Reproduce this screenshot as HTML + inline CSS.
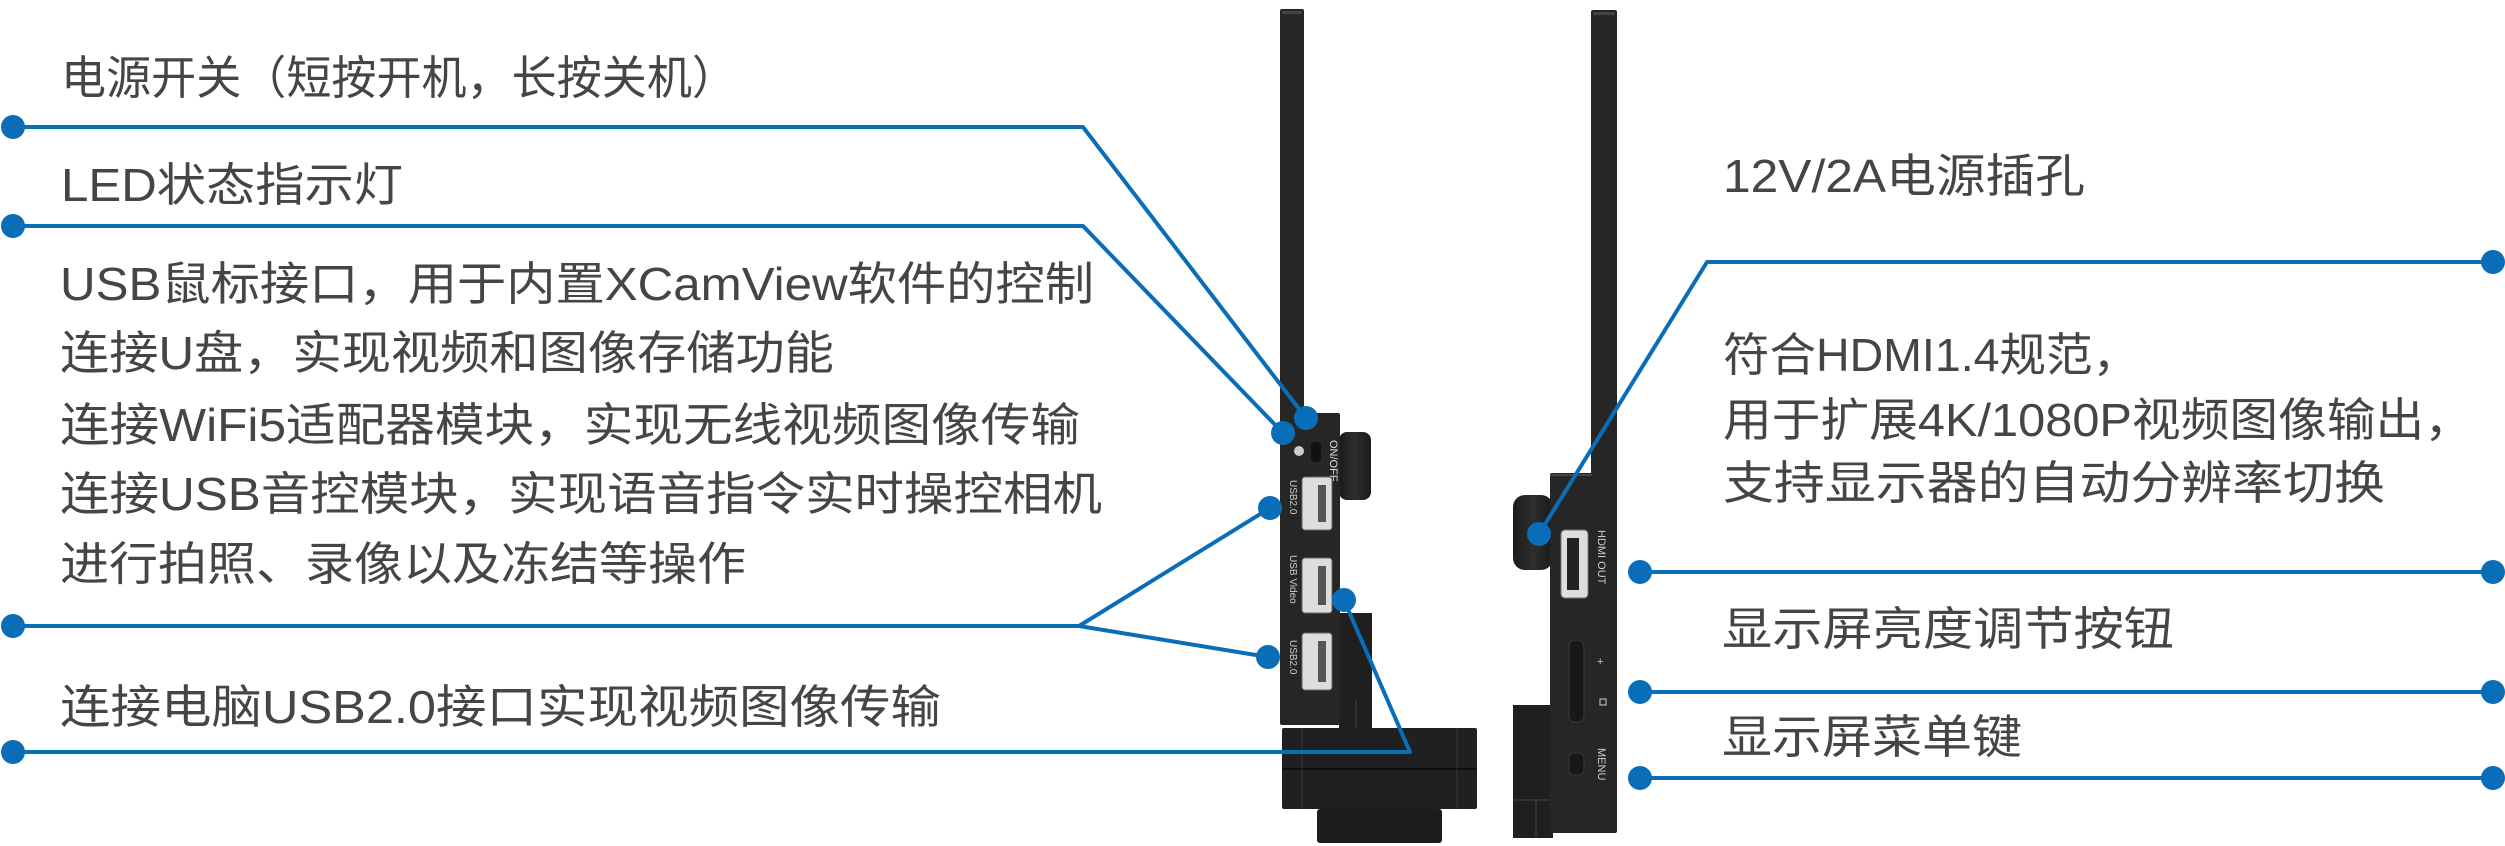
<!DOCTYPE html>
<html><head><meta charset="utf-8">
<style>
html,body{margin:0;padding:0;background:#fff;}
body{width:2505px;height:846px;position:relative;overflow:hidden;}
.t{position:absolute;left:0;top:0;white-space:nowrap;font-family:"Liberation Sans","Noto Sans CJK SC",sans-serif;font-size:46px;line-height:46px;color:#454545;transform-origin:0 50%;}
svg{position:absolute;left:0;top:0;}
</style></head><body>
<svg width="2505" height="846" viewBox="0 0 2505 846">
<defs>
<linearGradient id="knob" x1="0" x2="1"><stop offset="0" stop-color="#1a1a1a"/><stop offset=".5" stop-color="#2e2e2e"/><stop offset="1" stop-color="#1a1a1a"/></linearGradient>
</defs>
<!-- LEFT DEVICE -->
<rect x="1280" y="9" width="24" height="410" fill="#262626" rx="2"/>
<rect x="1282" y="11" width="20" height="3" fill="#444"/>
<rect x="1339" y="432" width="32" height="68" rx="8" fill="url(#knob)"/>
<rect x="1339" y="613" width="33" height="115" fill="#1f1f1f"/>
<line x1="1356" y1="700" x2="1356" y2="728" stroke="#444"/>
<rect x="1280" y="413" width="60" height="312" fill="#262626" rx="2"/>
<rect x="1282" y="728" width="195" height="81" fill="#202020" rx="2"/>
<line x1="1282" y1="769" x2="1477" y2="769" stroke="#0d0d0d" stroke-width="2"/>
<line x1="1302" y1="728" x2="1302" y2="809" stroke="#333"/>
<line x1="1457" y1="728" x2="1457" y2="809" stroke="#333"/>
<rect x="1317" y="809" width="125" height="34" fill="#1c1c1c" rx="3"/>
<circle cx="1299" cy="451" r="5" fill="#ccc"/>
<rect x="1311" y="442" width="10" height="20" rx="4" fill="#111"/>
<text x="0" y="0" transform="translate(1330,440) rotate(90)" font-family="Liberation Sans" font-size="11" fill="#ddd">ON/OFF</text>
<g fill="#ddd" stroke="#666">
<rect x="1302" y="477" width="30" height="53" rx="3"/>
<rect x="1302" y="558" width="30" height="55" rx="3"/>
<rect x="1302" y="633" width="30" height="57" rx="3"/>
</g>
<g fill="#555">
<rect x="1318" y="485" width="8" height="37"/><rect x="1318" y="566" width="8" height="39"/><rect x="1318" y="641" width="8" height="41"/>
</g>
<g font-family="Liberation Sans" font-size="10" fill="#ccc">
<text transform="translate(1290,480) rotate(90)">USB2.0</text>
<text transform="translate(1290,555) rotate(90)">USB Video</text>
<text transform="translate(1290,640) rotate(90)">USB2.0</text>
</g>
<!-- RIGHT DEVICE -->
<rect x="1591" y="10" width="26" height="470" fill="#262626" rx="2"/>
<rect x="1593" y="12" width="22" height="3" fill="#444"/>
<rect x="1513" y="495" width="40" height="75" rx="12" fill="url(#knob)"/>
<rect x="1513" y="705" width="40" height="133" fill="#1f1f1f"/>
<line x1="1513" y1="800" x2="1550" y2="800" stroke="#444"/>
<line x1="1536" y1="800" x2="1536" y2="838" stroke="#444"/>
<rect x="1550" y="473" width="67" height="360" fill="#262626" rx="2"/>
<line x1="1550" y1="475" x2="1592" y2="475" stroke="#444" stroke-width="2"/>
<rect x="1561" y="530" width="27" height="68" rx="4" fill="#ddd" stroke="#777"/>
<rect x="1567" y="538" width="12" height="52" fill="#222"/>
<rect x="1569" y="640" width="15" height="82" rx="6" fill="#181818" stroke="#3a3a3a"/>
<rect x="1569" y="753" width="15" height="22" rx="5" fill="#181818" stroke="#3a3a3a"/>
<g font-family="Liberation Sans" font-size="11" fill="#ccc">
<text transform="translate(1598,530) rotate(90)">HDMI OUT</text>
<text transform="translate(1598,748) rotate(90)">MENU</text>
<text x="1597" y="665">+</text>
</g>
<rect x="1600" y="699" width="6" height="6" fill="none" stroke="#ccc"/>
<!-- CONNECTORS -->
<g stroke="#0a6db8" stroke-width="4" fill="none" stroke-linejoin="round">
<polyline points="13,127 1083,127 1306,418"/>
<polyline points="13,226 1083,226 1283,433"/>
<polyline points="13,626 1079,626 1270,508"/>
<line x1="1079" y1="626" x2="1268" y2="657"/>
<polyline points="13,752 1410,752 1344,600"/>
<polyline points="1539,534 1707,262 2493,262"/>
<line x1="1640" y1="572" x2="2493" y2="572"/>
<line x1="1640" y1="692" x2="2493" y2="692"/>
<line x1="1640" y1="778" x2="2493" y2="778"/>
</g>
<g fill="#0a6db8">
<circle cx="13" cy="127" r="12"/><circle cx="13" cy="226" r="12"/><circle cx="13" cy="626" r="12"/><circle cx="13" cy="752" r="12"/>
<circle cx="1306" cy="418" r="12"/><circle cx="1283" cy="433" r="12"/><circle cx="1270" cy="508" r="12"/><circle cx="1268" cy="657" r="12"/><circle cx="1344" cy="600" r="12"/>
<circle cx="1539" cy="534" r="12"/>
<circle cx="1640" cy="572" r="12"/><circle cx="1640" cy="692" r="12"/><circle cx="1640" cy="778" r="12"/>
<circle cx="2493" cy="262" r="12"/><circle cx="2493" cy="572" r="12"/><circle cx="2493" cy="692" r="12"/><circle cx="2493" cy="778" r="12"/>
</g>
</svg>
<div class="t" w="676" style="left:61px;top:55px">电源开关（短按开机，长按关机）</div>
<div class="t" w="342" style="left:61px;top:162px">LED状态指示灯</div>
<div class="t" w="1034" style="left:60px;top:261px">USB鼠标接口，用于内置XCamView软件的控制</div>
<div class="t" w="774" style="left:60px;top:330px">连接U盘，实现视频和图像存储功能</div>
<div class="t" w="1020" style="left:60px;top:402px">连接WiFi5适配器模块，实现无线视频图像传输</div>
<div class="t" w="1042" style="left:60px;top:471px">连接USB音控模块，实现语音指令实时操控相机</div>
<div class="t" w="686" style="left:60px;top:541px">进行拍照、录像以及冻结等操作</div>
<div class="t" w="881" style="left:60px;top:684px">连接电脑USB2.0接口实现视频图像传输</div>
<div class="t" w="362" style="left:1723px;top:153px">12V/2A电源插孔</div>
<div class="t" w="416" style="left:1723px;top:332px">符合HDMI1.4规范，</div>
<div class="t" w="750" style="left:1723px;top:397px">用于扩展4K/1080P视频图像输出，</div>
<div class="t" w="662" style="left:1723px;top:460px">支持显示器的自动分辨率切换</div>
<div class="t" w="452" style="left:1722px;top:606px">显示屏亮度调节按钮</div>
<div class="t" w="300" style="left:1722px;top:714px">显示屏菜单键</div>
<script>
document.querySelectorAll('.t').forEach(function(e){
  var w=parseFloat(e.getAttribute('w'));var r=e.getBoundingClientRect().width;
  if(r>0){e.style.transform='scaleX('+(w/r)+')';}
});
</script>
</body></html>
